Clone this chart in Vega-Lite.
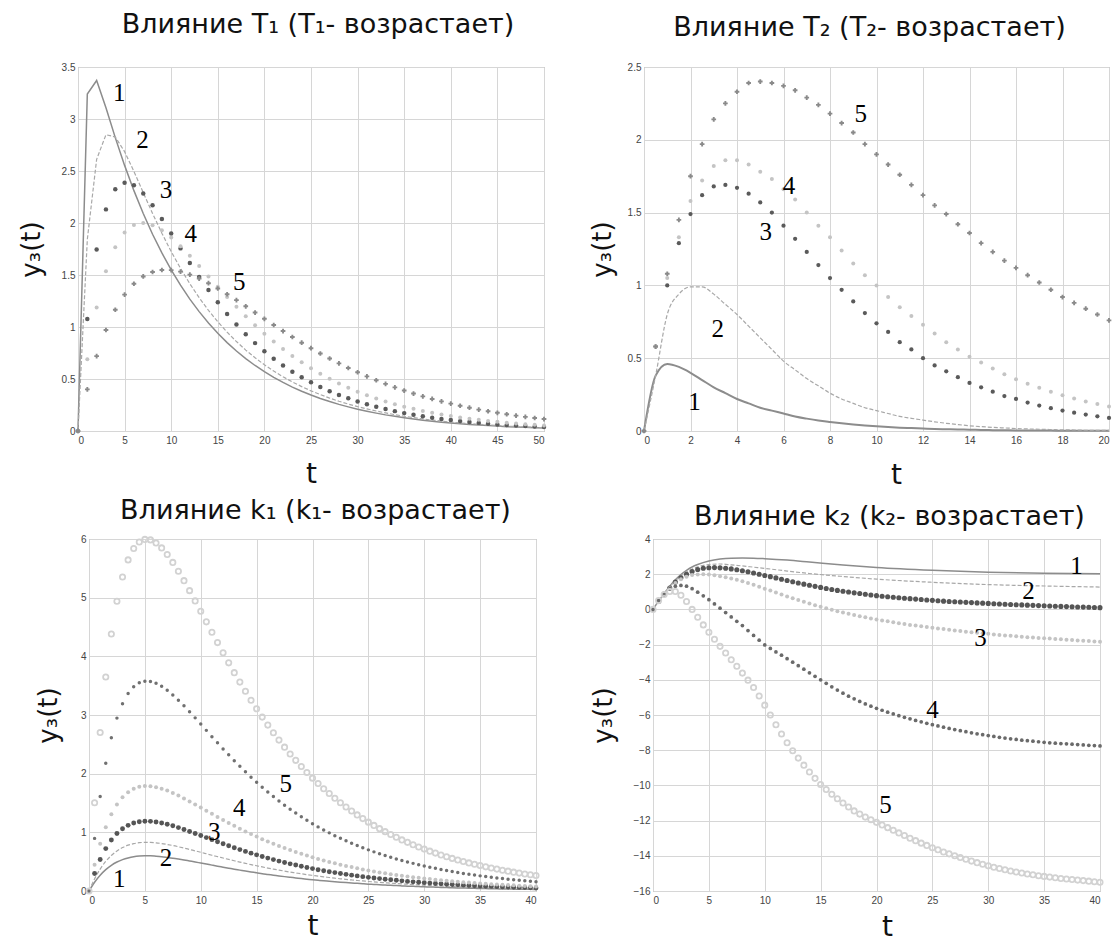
{
"$schema": "https://vega.github.io/schema/vega-lite/v6.json",
"padding": {"left": 17, "top": 10, "right": 0, "bottom": 0},
"spacing": 6,
"config": {
  "view": {"stroke": "#9a9a9a", "strokeWidth": 1},
  "axis": {"grid": true, "gridColor": "#d6d6d6", "gridWidth": 1, "domain": false, "ticks": false, "labelFont": "Liberation Sans", "labelFontSize": 10, "labelColor": "#444444", "titleFont": "DejaVu Sans", "titleFontWeight": "normal", "titleColor": "#111111"},
  "axisX": {"labelPadding": 4, "titleFontSize": 28, "minExtent": 14, "maxExtent": 14},
  "axisY": {"labelPadding": 3, "titleFontSize": 26, "minExtent": 16, "maxExtent": 16},
  "title": {"font": "DejaVu Sans", "fontSize": 27, "fontWeight": "normal", "color": "#111111", "baseline": "alphabetic", "anchor": "middle"}
},
"datasets": {
"p1": [
{"t":0,"c1":0,"c2":0,"c3":0,"c4":0,"c5":0},
{"t":1,"c1":3.24,"c2":1.842,"c3":1.076,"c4":0.689,"c5":0.4},
{"t":2,"c1":3.37,"c2":2.612,"c3":1.745,"c4":1.187,"c5":0.72},
{"t":3,"c1":3.109,"c2":2.849,"c3":2.131,"c4":1.536,"c5":0.971},
{"t":4,"c1":2.821,"c2":2.827,"c3":2.324,"c4":1.768,"c5":1.166},
{"t":5,"c1":2.554,"c2":2.686,"c3":2.387,"c4":1.909,"c5":1.311},
{"t":6,"c1":2.311,"c2":2.496,"c3":2.363,"c4":1.981,"c5":1.416},
{"t":7,"c1":2.091,"c2":2.293,"c3":2.284,"c4":2.0,"c5":1.486},
{"t":8,"c1":1.892,"c2":2.092,"c3":2.171,"c4":1.979,"c5":1.529},
{"t":9,"c1":1.712,"c2":1.902,"c3":2.039,"c4":1.93,"c5":1.548},
{"t":10,"c1":1.549,"c2":1.725,"c3":1.898,"c4":1.86,"c5":1.547},
{"t":11,"c1":1.402,"c2":1.563,"c3":1.756,"c4":1.777,"c5":1.532},
{"t":12,"c1":1.268,"c2":1.416,"c3":1.616,"c4":1.684,"c5":1.504},
{"t":13,"c1":1.148,"c2":1.282,"c3":1.482,"c4":1.586,"c5":1.466},
{"t":14,"c1":1.038,"c2":1.16,"c3":1.355,"c4":1.486,"c5":1.421},
{"t":15,"c1":0.94,"c2":1.05,"c3":1.237,"c4":1.387,"c5":1.37},
{"t":16,"c1":0.85,"c2":0.95,"c3":1.126,"c4":1.289,"c5":1.315},
{"t":17,"c1":0.769,"c2":0.86,"c3":1.024,"c4":1.194,"c5":1.258},
{"t":18,"c1":0.696,"c2":0.778,"c3":0.93,"c4":1.104,"c5":1.199},
{"t":19,"c1":0.63,"c2":0.704,"c3":0.845,"c4":1.018,"c5":1.139},
{"t":20,"c1":0.57,"c2":0.637,"c3":0.766,"c4":0.936,"c5":1.079},
{"t":21,"c1":0.516,"c2":0.576,"c3":0.695,"c4":0.86,"c5":1.019},
{"t":22,"c1":0.467,"c2":0.521,"c3":0.629,"c4":0.788,"c5":0.961},
{"t":23,"c1":0.422,"c2":0.472,"c3":0.57,"c4":0.722,"c5":0.904},
{"t":24,"c1":0.382,"c2":0.427,"c3":0.516,"c4":0.66,"c5":0.849},
{"t":25,"c1":0.346,"c2":0.386,"c3":0.468,"c4":0.603,"c5":0.796},
{"t":26,"c1":0.313,"c2":0.35,"c3":0.423,"c4":0.55,"c5":0.745},
{"t":27,"c1":0.283,"c2":0.316,"c3":0.383,"c4":0.502,"c5":0.697},
{"t":28,"c1":0.256,"c2":0.286,"c3":0.347,"c4":0.457,"c5":0.65},
{"t":29,"c1":0.232,"c2":0.259,"c3":0.314,"c4":0.416,"c5":0.606},
{"t":30,"c1":0.21,"c2":0.234,"c3":0.284,"c4":0.378,"c5":0.565},
{"t":31,"c1":0.19,"c2":0.212,"c3":0.257,"c4":0.344,"c5":0.525},
{"t":32,"c1":0.172,"c2":0.192,"c3":0.233,"c4":0.313,"c5":0.488},
{"t":33,"c1":0.155,"c2":0.174,"c3":0.211,"c4":0.284,"c5":0.453},
{"t":34,"c1":0.141,"c2":0.157,"c3":0.191,"c4":0.258,"c5":0.42},
{"t":35,"c1":0.127,"c2":0.142,"c3":0.172,"c4":0.234,"c5":0.389},
{"t":36,"c1":0.115,"c2":0.129,"c3":0.156,"c4":0.213,"c5":0.36},
{"t":37,"c1":0.104,"c2":0.116,"c3":0.141,"c4":0.193,"c5":0.333},
{"t":38,"c1":0.094,"c2":0.105,"c3":0.128,"c4":0.175,"c5":0.308},
{"t":39,"c1":0.085,"c2":0.095,"c3":0.116,"c4":0.159,"c5":0.285},
{"t":40,"c1":0.077,"c2":0.086,"c3":0.105,"c4":0.144,"c5":0.263},
{"t":41,"c1":0.07,"c2":0.078,"c3":0.095,"c4":0.13,"c5":0.243},
{"t":42,"c1":0.063,"c2":0.071,"c3":0.086,"c4":0.118,"c5":0.224},
{"t":43,"c1":0.057,"c2":0.064,"c3":0.078,"c4":0.107,"c5":0.206},
{"t":44,"c1":0.052,"c2":0.058,"c3":0.07,"c4":0.097,"c5":0.19},
{"t":45,"c1":0.047,"c2":0.052,"c3":0.063,"c4":0.088,"c5":0.175},
{"t":46,"c1":0.042,"c2":0.047,"c3":0.057,"c4":0.08,"c5":0.161},
{"t":47,"c1":0.038,"c2":0.043,"c3":0.052,"c4":0.072,"c5":0.148},
{"t":48,"c1":0.035,"c2":0.039,"c3":0.047,"c4":0.065,"c5":0.136},
{"t":49,"c1":0.031,"c2":0.035,"c3":0.043,"c4":0.059,"c5":0.125},
{"t":50,"c1":0.028,"c2":0.032,"c3":0.039,"c4":0.054,"c5":0.115}
],
"p2": [
{"t":0,"c1":0,"c2":0,"c3":0,"c4":0,"c5":0},
{"t":0.5,"c1":0.38,"c2":0.38,"c3":0.58,"c4":0.58,"c5":0.58},
{"t":1,"c1":0.46,"c2":0.8,"c3":1.0,"c4":1.05,"c5":1.08},
{"t":1.5,"c1":0.44,"c2":0.94,"c3":1.29,"c4":1.33,"c5":1.45},
{"t":2,"c1":0.4,"c2":0.99,"c3":1.49,"c4":1.58,"c5":1.75},
{"t":2.5,"c1":0.35,"c2":0.99,"c3":1.62,"c4":1.72,"c5":1.97},
{"t":3,"c1":0.3,"c2":0.94,"c3":1.68,"c4":1.82,"c5":2.14},
{"t":3.5,"c1":0.26,"c2":0.87,"c3":1.69,"c4":1.86,"c5":2.25},
{"t":4,"c1":0.22,"c2":0.8,"c3":1.67,"c4":1.86,"c5":2.33},
{"t":4.5,"c1":0.19,"c2":0.72,"c3":1.63,"c4":1.83,"c5":2.39},
{"t":5,"c1":0.16,"c2":0.64,"c3":1.57,"c4":1.78,"c5":2.4},
{"t":5.5,"c1":0.14,"c2":0.56,"c3":1.5,"c4":1.73,"c5":2.39},
{"t":6,"c1":0.12,"c2":0.48,"c3":1.41,"c4":1.66,"c5":2.37},
{"t":6.5,"c1":0.1,"c2":0.42,"c3":1.32,"c4":1.59,"c5":2.34},
{"t":7,"c1":0.085,"c2":0.36,"c3":1.23,"c4":1.5,"c5":2.29},
{"t":7.5,"c1":0.072,"c2":0.31,"c3":1.14,"c4":1.41,"c5":2.24},
{"t":8,"c1":0.062,"c2":0.26,"c3":1.05,"c4":1.33,"c5":2.18},
{"t":8.5,"c1":0.053,"c2":0.22,"c3":0.97,"c4":1.24,"c5":2.115},
{"t":9,"c1":0.045,"c2":0.19,"c3":0.89,"c4":1.15,"c5":2.05},
{"t":9.5,"c1":0.038,"c2":0.16,"c3":0.81,"c4":1.07,"c5":1.97},
{"t":10,"c1":0.032,"c2":0.14,"c3":0.74,"c4":1.0,"c5":1.9},
{"t":10.5,"c1":0.027,"c2":0.12,"c3":0.68,"c4":0.92,"c5":1.83},
{"t":11,"c1":0.023,"c2":0.1,"c3":0.61,"c4":0.85,"c5":1.76},
{"t":11.5,"c1":0.02,"c2":0.087,"c3":0.56,"c4":0.79,"c5":1.69},
{"t":12,"c1":0.017,"c2":0.075,"c3":0.5,"c4":0.73,"c5":1.62},
{"t":12.5,"c1":0.014,"c2":0.063,"c3":0.45,"c4":0.67,"c5":1.55},
{"t":13,"c1":0.012,"c2":0.053,"c3":0.41,"c4":0.61,"c5":1.49},
{"t":13.5,"c1":0.01,"c2":0.044,"c3":0.37,"c4":0.56,"c5":1.42},
{"t":14,"c1":0.009,"c2":0.036,"c3":0.33,"c4":0.51,"c5":1.36},
{"t":14.5,"c1":0.007,"c2":0.03,"c3":0.3,"c4":0.47,"c5":1.29},
{"t":15,"c1":0.006,"c2":0.025,"c3":0.27,"c4":0.43,"c5":1.23},
{"t":15.5,"c1":0.005,"c2":0.021,"c3":0.24,"c4":0.39,"c5":1.17},
{"t":16,"c1":0.004,"c2":0.017,"c3":0.22,"c4":0.355,"c5":1.12},
{"t":16.5,"c1":0.004,"c2":0.014,"c3":0.195,"c4":0.325,"c5":1.07},
{"t":17,"c1":0.003,"c2":0.012,"c3":0.175,"c4":0.297,"c5":1.02},
{"t":17.5,"c1":0.003,"c2":0.01,"c3":0.157,"c4":0.27,"c5":0.97},
{"t":18,"c1":0.002,"c2":0.008,"c3":0.14,"c4":0.245,"c5":0.92},
{"t":18.5,"c1":0.002,"c2":0.007,"c3":0.126,"c4":0.223,"c5":0.88},
{"t":19,"c1":0.002,"c2":0.005,"c3":0.113,"c4":0.203,"c5":0.84},
{"t":19.5,"c1":0.001,"c2":0.004,"c3":0.101,"c4":0.185,"c5":0.8},
{"t":20,"c1":0.001,"c2":0.004,"c3":0.09,"c4":0.168,"c5":0.76}
],
"p3": [
{"t":0,"c1":0,"c2":0,"c3":0,"c4":0,"c5":0,"c6":0},
{"t":0.5,"c1":0.15,"c2":0.208,"c3":0.298,"c4":0.448,"c5":0.897,"c6":1.503},
{"t":1,"c1":0.27,"c2":0.374,"c3":0.536,"c4":0.806,"c5":1.612,"c6":2.702},
{"t":1.5,"c1":0.365,"c2":0.505,"c3":0.723,"c4":1.088,"c5":2.176,"c6":3.647},
{"t":2,"c1":0.438,"c2":0.606,"c3":0.869,"c4":1.307,"c5":2.614,"c6":4.381},
{"t":2.5,"c1":0.494,"c2":0.683,"c3":0.98,"c4":1.474,"c5":2.947,"c6":4.94},
{"t":3,"c1":0.535,"c2":0.74,"c3":1.061,"c4":1.597,"c5":3.193,"c6":5.352},
{"t":3.5,"c1":0.564,"c2":0.781,"c3":1.119,"c4":1.684,"c5":3.368,"c6":5.644},
{"t":4,"c1":0.584,"c2":0.807,"c3":1.158,"c4":1.741,"c5":3.483,"c6":5.837},
{"t":4.5,"c1":0.595,"c2":0.823,"c3":1.18,"c4":1.775,"c5":3.549,"c6":5.948},
{"t":5,"c1":0.599,"c2":0.829,"c3":1.189,"c4":1.788,"c5":3.576,"c6":5.993},
{"t":5.5,"c1":0.599,"c2":0.828,"c3":1.187,"c4":1.786,"c5":3.571,"c6":5.985},
{"t":6,"c1":0.593,"c2":0.821,"c3":1.177,"c4":1.77,"c5":3.54,"c6":5.933},
{"t":6.5,"c1":0.585,"c2":0.809,"c3":1.16,"c4":1.745,"c5":3.489,"c6":5.848},
{"t":7,"c1":0.573,"c2":0.793,"c3":1.137,"c4":1.711,"c5":3.422,"c6":5.735},
{"t":7.5,"c1":0.56,"c2":0.775,"c3":1.111,"c4":1.671,"c5":3.342,"c6":5.601},
{"t":8,"c1":0.545,"c2":0.754,"c3":1.081,"c4":1.626,"c5":3.252,"c6":5.451},
{"t":8.5,"c1":0.529,"c2":0.732,"c3":1.049,"c4":1.578,"c5":3.156,"c6":5.29},
{"t":9,"c1":0.512,"c2":0.708,"c3":1.015,"c4":1.527,"c5":3.055,"c6":5.12},
{"t":9.5,"c1":0.495,"c2":0.684,"c3":0.981,"c4":1.475,"c5":2.951,"c6":4.945},
{"t":10,"c1":0.477,"c2":0.66,"c3":0.946,"c4":1.422,"c5":2.845,"c6":4.768},
{"t":10.5,"c1":0.459,"c2":0.635,"c3":0.91,"c4":1.369,"c5":2.738,"c6":4.588},
{"t":11,"c1":0.441,"c2":0.61,"c3":0.875,"c4":1.316,"c5":2.631,"c6":4.41},
{"t":11.5,"c1":0.423,"c2":0.586,"c3":0.84,"c4":1.263,"c5":2.526,"c6":4.234},
{"t":12,"c1":0.406,"c2":0.562,"c3":0.805,"c4":1.211,"c5":2.422,"c6":4.06},
{"t":12.5,"c1":0.389,"c2":0.538,"c3":0.771,"c4":1.16,"c5":2.321,"c6":3.889},
{"t":13,"c1":0.372,"c2":0.515,"c3":0.738,"c4":1.111,"c5":2.221,"c6":3.722},
{"t":13.5,"c1":0.356,"c2":0.493,"c3":0.706,"c4":1.062,"c5":2.125,"c6":3.561},
{"t":14,"c1":0.34,"c2":0.471,"c3":0.675,"c4":1.015,"c5":2.031,"c6":3.404},
{"t":14.5,"c1":0.325,"c2":0.45,"c3":0.645,"c4":0.97,"c5":1.94,"c6":3.252},
{"t":15,"c1":0.311,"c2":0.43,"c3":0.616,"c4":0.927,"c5":1.853,"c6":3.106},
{"t":15.5,"c1":0.296,"c2":0.41,"c3":0.588,"c4":0.884,"c5":1.769,"c6":2.964},
{"t":16,"c1":0.283,"c2":0.391,"c3":0.561,"c4":0.844,"c5":1.687,"c6":2.828},
{"t":16.5,"c1":0.27,"c2":0.373,"c3":0.535,"c4":0.805,"c5":1.61,"c6":2.698},
{"t":17,"c1":0.257,"c2":0.356,"c3":0.51,"c4":0.767,"c5":1.535,"c6":2.572},
{"t":17.5,"c1":0.245,"c2":0.339,"c3":0.486,"c4":0.731,"c5":1.463,"c6":2.452},
{"t":18,"c1":0.234,"c2":0.323,"c3":0.463,"c4":0.697,"c5":1.394,"c6":2.336},
{"t":18.5,"c1":0.223,"c2":0.308,"c3":0.442,"c4":0.664,"c5":1.329,"c6":2.227},
{"t":19,"c1":0.212,"c2":0.293,"c3":0.421,"c4":0.633,"c5":1.266,"c6":2.121},
{"t":19.5,"c1":0.202,"c2":0.279,"c3":0.401,"c4":0.603,"c5":1.205,"c6":2.02},
{"t":20,"c1":0.192,"c2":0.266,"c3":0.382,"c4":0.574,"c5":1.148,"c6":1.924},
{"t":20.5,"c1":0.183,"c2":0.253,"c3":0.363,"c4":0.546,"c5":1.093,"c6":1.832},
{"t":21,"c1":0.174,"c2":0.241,"c3":0.346,"c4":0.52,"c5":1.041,"c6":1.744},
{"t":21.5,"c1":0.166,"c2":0.23,"c3":0.329,"c4":0.495,"c5":0.991,"c6":1.661},
{"t":22,"c1":0.158,"c2":0.219,"c3":0.314,"c4":0.472,"c5":0.943,"c6":1.581},
{"t":22.5,"c1":0.15,"c2":0.208,"c3":0.298,"c4":0.449,"c5":0.898,"c6":1.505},
{"t":23,"c1":0.143,"c2":0.198,"c3":0.284,"c4":0.427,"c5":0.855,"c6":1.432},
{"t":23.5,"c1":0.136,"c2":0.188,"c3":0.27,"c4":0.407,"c5":0.813,"c6":1.363},
{"t":24,"c1":0.13,"c2":0.179,"c3":0.257,"c4":0.387,"c5":0.774,"c6":1.297},
{"t":24.5,"c1":0.123,"c2":0.171,"c3":0.245,"c4":0.368,"c5":0.736,"c6":1.234},
{"t":25,"c1":0.117,"c2":0.162,"c3":0.233,"c4":0.35,"c5":0.701,"c6":1.174},
{"t":25.5,"c1":0.112,"c2":0.155,"c3":0.222,"c4":0.333,"c5":0.667,"c6":1.118},
{"t":26,"c1":0.106,"c2":0.147,"c3":0.211,"c4":0.317,"c5":0.634,"c6":1.063},
{"t":26.5,"c1":0.101,"c2":0.14,"c3":0.201,"c4":0.302,"c5":0.604,"c6":1.012},
{"t":27,"c1":0.096,"c2":0.133,"c3":0.191,"c4":0.287,"c5":0.575,"c6":0.963},
{"t":27.5,"c1":0.092,"c2":0.127,"c3":0.182,"c4":0.273,"c5":0.547,"c6":0.916},
{"t":28,"c1":0.087,"c2":0.121,"c3":0.173,"c4":0.26,"c5":0.52,"c6":0.871},
{"t":28.5,"c1":0.083,"c2":0.115,"c3":0.164,"c4":0.247,"c5":0.495,"c6":0.829},
{"t":29,"c1":0.079,"c2":0.109,"c3":0.156,"c4":0.235,"c5":0.471,"c6":0.789},
{"t":29.5,"c1":0.075,"c2":0.104,"c3":0.149,"c4":0.224,"c5":0.448,"c6":0.751},
{"t":30,"c1":0.071,"c2":0.099,"c3":0.142,"c4":0.213,"c5":0.426,"c6":0.714},
{"t":30.5,"c1":0.068,"c2":0.094,"c3":0.135,"c4":0.203,"c5":0.405,"c6":0.679},
{"t":31,"c1":0.065,"c2":0.089,"c3":0.128,"c4":0.193,"c5":0.386,"c6":0.646},
{"t":31.5,"c1":0.061,"c2":0.085,"c3":0.122,"c4":0.183,"c5":0.367,"c6":0.614},
{"t":32,"c1":0.058,"c2":0.081,"c3":0.116,"c4":0.174,"c5":0.349,"c6":0.584},
{"t":32.5,"c1":0.056,"c2":0.077,"c3":0.11,"c4":0.166,"c5":0.332,"c6":0.556},
{"t":33,"c1":0.053,"c2":0.073,"c3":0.105,"c4":0.158,"c5":0.316,"c6":0.529},
{"t":33.5,"c1":0.05,"c2":0.07,"c3":0.1,"c4":0.15,"c5":0.3,"c6":0.503},
{"t":34,"c1":0.048,"c2":0.066,"c3":0.095,"c4":0.143,"c5":0.286,"c6":0.479},
{"t":34.5,"c1":0.046,"c2":0.063,"c3":0.09,"c4":0.136,"c5":0.272,"c6":0.455},
{"t":35,"c1":0.043,"c2":0.06,"c3":0.086,"c4":0.129,"c5":0.258,"c6":0.433},
{"t":35.5,"c1":0.041,"c2":0.057,"c3":0.082,"c4":0.123,"c5":0.246,"c6":0.412},
{"t":36,"c1":0.039,"c2":0.054,"c3":0.078,"c4":0.117,"c5":0.234,"c6":0.392},
{"t":36.5,"c1":0.037,"c2":0.052,"c3":0.074,"c4":0.111,"c5":0.223,"c6":0.373},
{"t":37,"c1":0.035,"c2":0.049,"c3":0.07,"c4":0.106,"c5":0.212,"c6":0.355},
{"t":37.5,"c1":0.034,"c2":0.047,"c3":0.067,"c4":0.101,"c5":0.202,"c6":0.338},
{"t":38,"c1":0.032,"c2":0.044,"c3":0.064,"c4":0.096,"c5":0.192,"c6":0.321},
{"t":38.5,"c1":0.031,"c2":0.042,"c3":0.061,"c4":0.091,"c5":0.182,"c6":0.305},
{"t":39,"c1":0.029,"c2":0.04,"c3":0.058,"c4":0.087,"c5":0.173,"c6":0.29},
{"t":39.5,"c1":0.028,"c2":0.038,"c3":0.055,"c4":0.082,"c5":0.165,"c6":0.276},
{"t":40,"c1":0.026,"c2":0.036,"c3":0.052,"c4":0.078,"c5":0.157,"c6":0.263}
],
"p4l": [
{"t":0,"c1":0,"c2":0},
{"t":0.5,"c1":0.47,"c2":0.47},
{"t":1,"c1":0.9,"c2":0.9},
{"t":1.5,"c1":1.32,"c2":1.3},
{"t":2,"c1":1.68,"c2":1.63},
{"t":2.5,"c1":1.98,"c2":1.9},
{"t":3,"c1":2.22,"c2":2.12},
{"t":3.5,"c1":2.41,"c2":2.29},
{"t":4,"c1":2.55,"c2":2.42},
{"t":5,"c1":2.75,"c2":2.55},
{"t":6,"c1":2.86,"c2":2.58},
{"t":7,"c1":2.91,"c2":2.53},
{"t":8,"c1":2.92,"c2":2.47},
{"t":9,"c1":2.91,"c2":2.4},
{"t":10,"c1":2.88,"c2":2.33},
{"t":12,"c1":2.8,"c2":2.18},
{"t":14,"c1":2.69,"c2":2.04},
{"t":17,"c1":2.52,"c2":1.87},
{"t":20,"c1":2.38,"c2":1.72},
{"t":25,"c1":2.22,"c2":1.54},
{"t":30,"c1":2.11,"c2":1.41},
{"t":35,"c1":2.05,"c2":1.33},
{"t":40,"c1":2.02,"c2":1.27}
],
"p4m": [
{"t":0,"c3":0,"c4":0,"c5":0,"c6":0},
{"t":0.5,"c3":0.45,"c4":0.45,"c5":0.5,"c6":0.5},
{"t":1,"c3":0.85,"c4":0.85,"c5":0.92,"c6":0.85},
{"t":1.5,"c3":1.22,"c4":1.2,"c5":1.18,"c6":1.02},
{"t":2,"c3":1.55,"c4":1.5,"c5":1.32,"c6":1.02},
{"t":2.5,"c3":1.8,"c4":1.72,"c5":1.36,"c6":0.8},
{"t":3,"c3":2.0,"c4":1.86,"c5":1.32,"c6":0.45},
{"t":3.5,"c3":2.15,"c4":1.95,"c5":1.18,"c6":0},
{"t":4,"c3":2.27,"c4":1.99,"c5":0.98,"c6":-0.45},
{"t":4.5,"c3":2.34,"c4":2.0,"c5":0.77,"c6":-0.88},
{"t":5,"c3":2.37,"c4":1.98,"c5":0.55,"c6":-1.3},
{"t":5.5,"c3":2.375,"c4":1.94,"c5":0.31,"c6":-1.7},
{"t":6,"c3":2.36,"c4":1.89,"c5":0.07,"c6":-2.1},
{"t":6.5,"c3":2.335,"c4":1.83,"c5":-0.18,"c6":-2.48},
{"t":7,"c3":2.3,"c4":1.76,"c5":-0.43,"c6":-2.86},
{"t":7.5,"c3":2.25,"c4":1.68,"c5":-0.68,"c6":-3.23},
{"t":8,"c3":2.2,"c4":1.6,"c5":-0.92,"c6":-3.62},
{"t":8.5,"c3":2.14,"c4":1.5,"c5":-1.2,"c6":-4.02},
{"t":9,"c3":2.07,"c4":1.4,"c5":-1.48,"c6":-4.44},
{"t":9.5,"c3":2.0,"c4":1.29,"c5":-1.75,"c6":-4.92},
{"t":10,"c3":1.93,"c4":1.18,"c5":-2.02,"c6":-5.44},
{"t":10.5,"c3":1.86,"c4":1.07,"c5":-2.22,"c6":-6.0},
{"t":11,"c3":1.79,"c4":0.96,"c5":-2.42,"c6":-6.55},
{"t":11.5,"c3":1.715,"c4":0.85,"c5":-2.6,"c6":-7.08},
{"t":12,"c3":1.64,"c4":0.74,"c5":-2.8,"c6":-7.58},
{"t":12.5,"c3":1.57,"c4":0.63,"c5":-3.0,"c6":-8.03},
{"t":13,"c3":1.5,"c4":0.53,"c5":-3.2,"c6":-8.45},
{"t":13.5,"c3":1.435,"c4":0.43,"c5":-3.4,"c6":-8.85},
{"t":14,"c3":1.37,"c4":0.33,"c5":-3.6,"c6":-9.24},
{"t":14.5,"c3":1.31,"c4":0.24,"c5":-3.8,"c6":-9.6},
{"t":15,"c3":1.25,"c4":0.15,"c5":-4.0,"c6":-9.95},
{"t":15.5,"c3":1.19,"c4":0.06,"c5":-4.2,"c6":-10.23},
{"t":16,"c3":1.13,"c4":-0.02,"c5":-4.4,"c6":-10.5},
{"t":16.5,"c3":1.08,"c4":-0.1,"c5":-4.58,"c6":-10.76},
{"t":17,"c3":1.03,"c4":-0.18,"c5":-4.76,"c6":-11.0},
{"t":17.5,"c3":0.985,"c4":-0.25,"c5":-4.93,"c6":-11.23},
{"t":18,"c3":0.94,"c4":-0.32,"c5":-5.08,"c6":-11.45},
{"t":18.5,"c3":0.9,"c4":-0.39,"c5":-5.23,"c6":-11.63},
{"t":19,"c3":0.86,"c4":-0.45,"c5":-5.37,"c6":-11.8},
{"t":19.5,"c3":0.82,"c4":-0.51,"c5":-5.5,"c6":-11.95},
{"t":20,"c3":0.78,"c4":-0.57,"c5":-5.62,"c6":-12.1},
{"t":20.5,"c3":0.75,"c4":-0.63,"c5":-5.73,"c6":-12.25},
{"t":21,"c3":0.72,"c4":-0.68,"c5":-5.84,"c6":-12.4},
{"t":21.5,"c3":0.69,"c4":-0.73,"c5":-5.94,"c6":-12.55},
{"t":22,"c3":0.66,"c4":-0.78,"c5":-6.04,"c6":-12.7},
{"t":22.5,"c3":0.635,"c4":-0.83,"c5":-6.13,"c6":-12.85},
{"t":23,"c3":0.61,"c4":-0.88,"c5":-6.22,"c6":-13.0},
{"t":23.5,"c3":0.585,"c4":-0.92,"c5":-6.31,"c6":-13.14},
{"t":24,"c3":0.56,"c4":-0.96,"c5":-6.39,"c6":-13.28},
{"t":24.5,"c3":0.537,"c4":-1.0,"c5":-6.47,"c6":-13.41},
{"t":25,"c3":0.515,"c4":-1.04,"c5":-6.55,"c6":-13.54},
{"t":25.5,"c3":0.492,"c4":-1.08,"c5":-6.62,"c6":-13.66},
{"t":26,"c3":0.47,"c4":-1.12,"c5":-6.69,"c6":-13.78},
{"t":26.5,"c3":0.452,"c4":-1.16,"c5":-6.76,"c6":-13.89},
{"t":27,"c3":0.435,"c4":-1.2,"c5":-6.83,"c6":-14.0},
{"t":27.5,"c3":0.417,"c4":-1.23,"c5":-6.89,"c6":-14.1},
{"t":28,"c3":0.4,"c4":-1.27,"c5":-6.95,"c6":-14.2},
{"t":28.5,"c3":0.385,"c4":-1.3,"c5":-7.01,"c6":-14.3},
{"t":29,"c3":0.37,"c4":-1.33,"c5":-7.07,"c6":-14.39},
{"t":29.5,"c3":0.355,"c4":-1.36,"c5":-7.12,"c6":-14.48},
{"t":30,"c3":0.34,"c4":-1.39,"c5":-7.17,"c6":-14.57},
{"t":30.5,"c3":0.325,"c4":-1.42,"c5":-7.22,"c6":-14.65},
{"t":31,"c3":0.31,"c4":-1.45,"c5":-7.27,"c6":-14.72},
{"t":31.5,"c3":0.295,"c4":-1.48,"c5":-7.31,"c6":-14.79},
{"t":32,"c3":0.28,"c4":-1.5,"c5":-7.35,"c6":-14.86},
{"t":32.5,"c3":0.267,"c4":-1.53,"c5":-7.39,"c6":-14.92},
{"t":33,"c3":0.255,"c4":-1.55,"c5":-7.43,"c6":-14.98},
{"t":33.5,"c3":0.242,"c4":-1.58,"c5":-7.46,"c6":-15.03},
{"t":34,"c3":0.23,"c4":-1.6,"c5":-7.49,"c6":-15.08},
{"t":34.5,"c3":0.217,"c4":-1.62,"c5":-7.52,"c6":-15.13},
{"t":35,"c3":0.205,"c4":-1.64,"c5":-7.55,"c6":-15.17},
{"t":35.5,"c3":0.192,"c4":-1.66,"c5":-7.58,"c6":-15.21},
{"t":36,"c3":0.18,"c4":-1.68,"c5":-7.6,"c6":-15.25},
{"t":36.5,"c3":0.17,"c4":-1.7,"c5":-7.62,"c6":-15.29},
{"t":37,"c3":0.16,"c4":-1.72,"c5":-7.64,"c6":-15.32},
{"t":37.5,"c3":0.15,"c4":-1.74,"c5":-7.66,"c6":-15.35},
{"t":38,"c3":0.14,"c4":-1.76,"c5":-7.68,"c6":-15.38},
{"t":38.5,"c3":0.13,"c4":-1.78,"c5":-7.7,"c6":-15.41},
{"t":39,"c3":0.12,"c4":-1.8,"c5":-7.72,"c6":-15.44},
{"t":39.5,"c3":0.11,"c4":-1.82,"c5":-7.74,"c6":-15.47},
{"t":40,"c3":0.1,"c4":-1.84,"c5":-7.76,"c6":-15.5}
]
},
"vconcat": [
{
"hconcat": [
{
 "width": 466, "height": 364,
 "title": {"text": "Влияние T₁ (T₁- возрастает)", "offset": 23, "dx": 7},
 "data": {"name": "p1"},
 "encoding": {
  "x": {"field": "t", "type": "quantitative", "scale": {"domain": [0, 50], "nice": false, "zero": false}, "axis": {"values": [0,5,10,15,20,25,30,35,40,45,50], "format": "~g", "title": "t", "titlePadding": 15}},
  "y": {"field": "v", "type": "quantitative", "scale": {"domain": [0, 3.5], "nice": false}, "axis": {"values": [0,0.5,1,1.5,2,2.5,3,3.5], "format": "~g", "title": "y₃(t)", "titlePadding": 18}}
 },
 "layer": [
  {"transform": [{"fold": ["c1"], "as": ["curve", "v"]}], "mark": {"type": "line", "color": "#8c8c8c", "strokeWidth": 1.5}},
  {"transform": [{"fold": ["c2"], "as": ["curve", "v"]}], "mark": {"type": "line", "color": "#a8a8a8", "strokeWidth": 1.2, "strokeDash": [4, 2]}},
  {"transform": [{"fold": ["c3"], "as": ["curve", "v"]}], "mark": {"type": "point", "shape": "circle", "filled": true, "color": "#5a5a5a", "size": 20, "opacity": 1}},
  {"transform": [{"fold": ["c4"], "as": ["curve", "v"]}], "mark": {"type": "point", "shape": "circle", "filled": true, "color": "#c4c4c4", "size": 16, "opacity": 1}},
  {"transform": [{"fold": ["c5"], "as": ["curve", "v"]}], "mark": {"type": "point", "shape": "cross", "filled": true, "color": "#8a8a8a", "size": 22, "opacity": 1}},
  {"data": {"values": [{"t":4.43,"v":3.25,"lab":"1"},{"t":6.93,"v":2.8,"lab":"2"},{"t":9.43,"v":2.32,"lab":"3"},{"t":12.1,"v":1.89,"lab":"4"},{"t":17.3,"v":1.43,"lab":"5"}]},
   "mark": {"type": "text", "font": "Liberation Serif", "fontSize": 25, "color": "#000000", "align": "center", "baseline": "middle"}, "encoding": {"text": {"field": "lab"}}}
 ]
},
{
 "width": 465, "height": 364,
 "title": {"text": "Влияние T₂ (T₂- возрастает)", "offset": 20, "dx": -7},
 "data": {"name": "p2"},
 "encoding": {
  "x": {"field": "t", "type": "quantitative", "scale": {"domain": [0, 20], "nice": false, "zero": false}, "axis": {"values": [0,2,4,6,8,10,12,14,16,18,20], "format": "~g", "title": "t", "titlePadding": 16, "titleX": 252}},
  "y": {"field": "v", "type": "quantitative", "scale": {"domain": [0, 2.5], "nice": false}, "axis": {"values": [0,0.5,1,1.5,2,2.5], "format": "~g", "title": "y₃(t)", "titlePadding": 13}}
 },
 "layer": [
  {"transform": [{"fold": ["c1"], "as": ["curve", "v"]}], "mark": {"type": "line", "color": "#8c8c8c", "strokeWidth": 2, "interpolate": "monotone"}},
  {"transform": [{"fold": ["c2"], "as": ["curve", "v"]}], "mark": {"type": "line", "color": "#a8a8a8", "strokeWidth": 1.2, "strokeDash": [4, 2], "interpolate": "monotone"}},
  {"transform": [{"fold": ["c3"], "as": ["curve", "v"]}], "mark": {"type": "point", "shape": "circle", "filled": true, "color": "#5a5a5a", "size": 18, "opacity": 1}},
  {"transform": [{"fold": ["c4"], "as": ["curve", "v"]}], "mark": {"type": "point", "shape": "circle", "filled": true, "color": "#c4c4c4", "size": 16, "opacity": 1}},
  {"transform": [{"fold": ["c5"], "as": ["curve", "v"]}], "mark": {"type": "point", "shape": "cross", "filled": true, "color": "#8a8a8a", "size": 22, "opacity": 1}},
  {"data": {"values": [{"t":9.32,"v":2.18,"lab":"5"},{"t":6.24,"v":1.68,"lab":"4"},{"t":5.24,"v":1.37,"lab":"3"},{"t":3.17,"v":0.7,"lab":"2"},{"t":2.17,"v":0.2,"lab":"1"}]},
   "mark": {"type": "text", "font": "Liberation Serif", "fontSize": 25, "color": "#000000", "align": "center", "baseline": "middle"}, "encoding": {"text": {"field": "lab"}}}
 ]
}
],
"spacing": 100,
"bounds": "flush"
},
{
"hconcat": [
{"width": 11, "height": 10, "data": {"values": [{"t": 0}]}, "mark": {"type": "point", "opacity": 0}, "view": {"stroke": null}},
{
"hconcat": [
{
 "width": 447, "height": 352,
 "title": {"text": "Влияние k₁ (k₁- возрастает)", "offset": 8, "dx": 3},
 "data": {"name": "p3"},
 "encoding": {
  "x": {"field": "t", "type": "quantitative", "scale": {"domain": [0, 40], "nice": false, "zero": false}, "axis": {"values": [0,5,10,15,20,25,30,35,40], "format": "~g", "title": "t", "titlePadding": 7}},
  "y": {"field": "v", "type": "quantitative", "scale": {"domain": [0, 6], "nice": false}, "axis": {"values": [0,1,2,3,4,5,6], "format": "~g", "title": "y₃(t)", "titlePadding": 12}}
 },
 "layer": [
  {"transform": [{"fold": ["c1"], "as": ["curve", "v"]}], "mark": {"type": "line", "color": "#8c8c8c", "strokeWidth": 1.5, "interpolate": "monotone"}},
  {"transform": [{"fold": ["c2"], "as": ["curve", "v"]}], "mark": {"type": "line", "color": "#a8a8a8", "strokeWidth": 1.2, "strokeDash": [4, 2], "interpolate": "monotone"}},
  {"transform": [{"fold": ["c3"], "as": ["curve", "v"]}], "mark": {"type": "point", "shape": "circle", "filled": true, "color": "#555555", "size": 24, "opacity": 1}},
  {"transform": [{"fold": ["c4"], "as": ["curve", "v"]}], "mark": {"type": "point", "shape": "circle", "filled": true, "color": "#c4c4c4", "size": 16, "opacity": 1}},
  {"transform": [{"fold": ["c5"], "as": ["curve", "v"]}], "mark": {"type": "point", "shape": "circle", "filled": true, "color": "#707070", "size": 12, "opacity": 1}},
  {"transform": [{"fold": ["c6"], "as": ["curve", "v"]}], "mark": {"type": "point", "shape": "circle", "filled": false, "color": "#d2d2d2", "strokeWidth": 1.8, "size": 28, "opacity": 1}},
  {"data": {"values": [{"t":2.71,"v":0.2,"lab":"1"},{"t":6.89,"v":0.57,"lab":"2"},{"t":11.2,"v":1.0,"lab":"3"},{"t":13.45,"v":1.42,"lab":"4"},{"t":17.6,"v":1.82,"lab":"5"}]},
   "mark": {"type": "text", "font": "Liberation Serif", "fontSize": 25, "color": "#000000", "align": "center", "baseline": "middle"}, "encoding": {"text": {"field": "lab"}}}
 ]
},
{
 "width": 447, "height": 352,
 "title": {"text": "Влияние k₂ (k₂- возрастает)", "offset": 3, "dx": 13},
 "encoding": {
  "x": {"field": "t", "type": "quantitative", "scale": {"domain": [0, 40], "nice": false, "zero": false}, "axis": {"values": [0,5,10,15,20,25,30,35,40], "format": "~g", "title": "t", "titlePadding": 8, "titleX": 234}},
  "y": {"field": "v", "type": "quantitative", "scale": {"domain": [-16, 4], "nice": false}, "axis": {"values": [-16,-14,-12,-10,-8,-6,-4,-2,0,2,4], "format": "~g", "title": "y₃(t)", "titlePadding": 21}}
 },
 "layer": [
  {"data": {"name": "p4l"}, "transform": [{"fold": ["c1"], "as": ["curve", "v"]}], "mark": {"type": "line", "color": "#8c8c8c", "strokeWidth": 1.5, "interpolate": "monotone"}},
  {"data": {"name": "p4l"}, "transform": [{"fold": ["c2"], "as": ["curve", "v"]}], "mark": {"type": "line", "color": "#a8a8a8", "strokeWidth": 1.2, "strokeDash": [4, 2], "interpolate": "monotone"}},
  {"data": {"name": "p4m"}, "transform": [{"fold": ["c3"], "as": ["curve", "v"]}], "mark": {"type": "point", "shape": "circle", "filled": true, "color": "#555555", "size": 26, "opacity": 1}},
  {"data": {"name": "p4m"}, "transform": [{"fold": ["c4"], "as": ["curve", "v"]}], "mark": {"type": "point", "shape": "circle", "filled": true, "color": "#c4c4c4", "size": 16, "opacity": 1}},
  {"data": {"name": "p4m"}, "transform": [{"fold": ["c5"], "as": ["curve", "v"]}], "mark": {"type": "point", "shape": "circle", "filled": true, "color": "#6a6a6a", "size": 14, "opacity": 1}},
  {"data": {"name": "p4m"}, "transform": [{"fold": ["c6"], "as": ["curve", "v"]}], "mark": {"type": "point", "shape": "circle", "filled": false, "color": "#d2d2d2", "strokeWidth": 1.8, "size": 28, "opacity": 1}},
  {"data": {"values": [{"t":37.9,"v":2.46,"lab":"1"},{"t":33.6,"v":1.04,"lab":"2"},{"t":29.3,"v":-1.62,"lab":"3"},{"t":25.0,"v":-5.7,"lab":"4"},{"t":20.8,"v":-11.1,"lab":"5"}]},
   "mark": {"type": "text", "font": "Liberation Serif", "fontSize": 25, "color": "#000000", "align": "center", "baseline": "middle"}, "encoding": {"text": {"field": "lab"}}}
 ]
}
],
"spacing": 117,
"bounds": "flush"
}
],
"spacing": 0,
"bounds": "flush"
}
]
}
